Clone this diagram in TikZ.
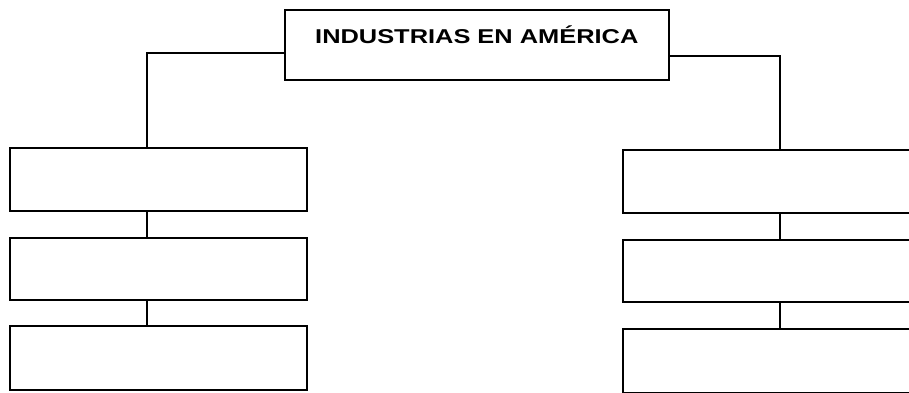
\documentclass[tikz,border=0pt]{standalone}
\usepackage{fontspec}
\usepackage{graphicx}
\setmainfont{Liberation Sans}
\begin{document}
\begin{tikzpicture}[x=1pt,y=-1pt,
  box/.style={draw=black,line width=1.6pt,rectangle,inner sep=0pt,anchor=north west,fill=white},
  lbox/.style={box,minimum width=297pt,minimum height=63pt},
  rbox/.style={box,minimum width=300pt,minimum height=63pt},
  link/.style={draw=black,line width=1.3pt}]
\useasboundingbox (0,0) rectangle (909,393);
\clip (0,0) rectangle (909,393);
\fill[white] (0,0) rectangle (909,393);
\node[box,minimum width=384pt,text height=34pt,text depth=36pt] (top) at (284,9)
  {\scalebox{1.27}[1]{\fontsize{20}{24}\selectfont\bfseries INDUSTRIAS EN AMÉRICA}};
\node[lbox] (l1) at (9,147) {};
\node[lbox,minimum height=62pt] (l2) at (9,237) {};
\node[lbox,minimum height=64pt] (l3) at (9,325) {};
\node[rbox] (r1) at (622,149) {};
\node[rbox,minimum height=62pt] (r2) at (622,239) {};
\node[rbox,minimum height=64pt] (r3) at (622,328) {};
\coordinate (lx) at (147,0);
\coordinate (rx) at (780,0);
\coordinate (ly) at (0,53);
\coordinate (ry) at (0,56);
\draw[link] (top.west |- ly) -| (l1.north -| lx);
\draw[link] (top.east |- ry) -| (r1.north -| rx);
\draw[link] (l1.south -| lx) -- (l2.north -| lx);
\draw[link] (l2.south -| lx) -- (l3.north -| lx);
\draw[link] (r1.south -| rx) -- (r2.north -| rx);
\draw[link] (r2.south -| rx) -- (r3.north -| rx);
\end{tikzpicture}
\end{document}
